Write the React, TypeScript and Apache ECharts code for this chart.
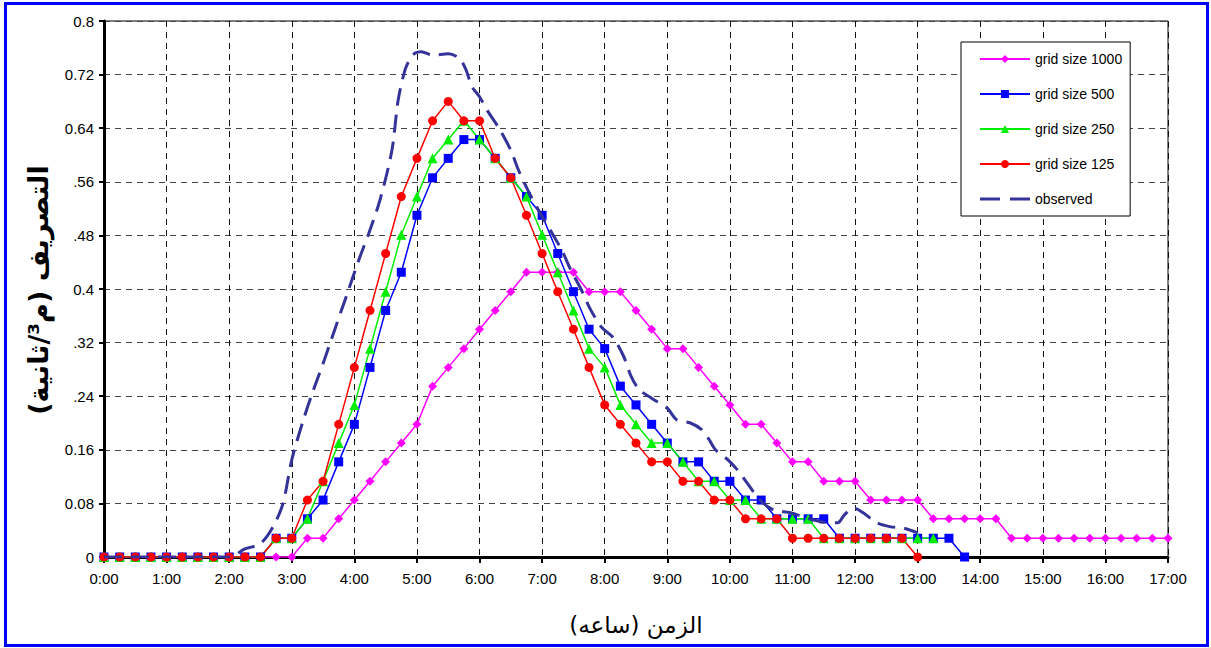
import React, { useEffect, useRef } from "react";
import * as echarts from "echarts";

// Sample times every 15 minutes (hours), the x positions of the model series
const times: number[] = Array.from({ length: 69 }, (_, i) => i / 4);

const hourTicks: string[] = [
  "0:00", "1:00", "2:00", "3:00", "4:00", "5:00", "6:00", "7:00", "8:00",
  "9:00", "10:00", "11:00", "12:00", "13:00", "14:00", "15:00", "16:00", "17:00",
];

const grid1000: number[] = [
  0, 0, 0, 0, 0, 0, 0, 0, 0, 0, 0, 0,
  0, 0.028, 0.028, 0.057, 0.085, 0.113, 0.142, 0.17, 0.198, 0.255, 0.283, 0.311,
  0.34, 0.368, 0.396, 0.425, 0.425, 0.425, 0.425, 0.396, 0.396, 0.396, 0.368, 0.34,
  0.311, 0.311, 0.283, 0.255, 0.227, 0.198, 0.198, 0.17, 0.142, 0.142, 0.113, 0.113,
  0.113, 0.085, 0.085, 0.085, 0.085, 0.057, 0.057, 0.057, 0.057, 0.057, 0.028, 0.028,
  0.028, 0.028, 0.028, 0.028, 0.028, 0.028, 0.028, 0.028, 0.028,
];

const grid500: number[] = [
  0, 0, 0, 0, 0, 0, 0, 0, 0, 0, 0, 0.028,
  0.028, 0.057, 0.085, 0.142, 0.198, 0.283, 0.368, 0.425, 0.51, 0.566, 0.595, 0.623,
  0.623, 0.595, 0.566, 0.538, 0.51, 0.453, 0.396, 0.34, 0.311, 0.255, 0.227, 0.198,
  0.17, 0.142, 0.142, 0.113, 0.113, 0.085, 0.085, 0.057, 0.057, 0.057, 0.057, 0.028,
  0.028, 0.028, 0.028, 0.028, 0.028, 0.028, 0.028, 0,
];

const grid250: number[] = [
  0, 0, 0, 0, 0, 0, 0, 0, 0, 0, 0, 0.028,
  0.028, 0.057, 0.113, 0.17, 0.227, 0.311, 0.396, 0.481, 0.538, 0.595, 0.623, 0.651,
  0.623, 0.595, 0.566, 0.538, 0.481, 0.425, 0.368, 0.311, 0.283, 0.227, 0.198, 0.17,
  0.17, 0.142, 0.113, 0.113, 0.085, 0.085, 0.057, 0.057, 0.057, 0.057, 0.028, 0.028,
  0.028, 0.028, 0.028, 0.028, 0.028, 0.028,
];

const grid125: number[] = [
  0, 0, 0, 0, 0, 0, 0, 0, 0, 0, 0, 0.028,
  0.028, 0.085, 0.113, 0.198, 0.283, 0.368, 0.453, 0.538, 0.595, 0.651, 0.68, 0.651,
  0.651, 0.595, 0.566, 0.51, 0.453, 0.396, 0.34, 0.283, 0.227, 0.198, 0.17, 0.142,
  0.142, 0.113, 0.113, 0.085, 0.085, 0.057, 0.057, 0.057, 0.028, 0.028, 0.028, 0.028,
  0.028, 0.028, 0.028, 0.028, 0,
];

const observedTime: number[] = [
  0, 2.0, 2.25, 2.5, 2.7, 2.86, 3.0, 3.17, 3.33, 3.52, 3.7, 3.89, 4.07, 4.23, 4.41,
  4.6, 4.7, 4.81, 4.9, 4.97, 5.07, 5.25, 5.5, 5.68, 5.78, 5.88, 6.0, 6.12, 6.33, 6.5,
  6.62, 6.77, 6.97, 7.18, 7.33, 7.45, 7.62, 7.77, 7.95, 8.13, 8.3, 8.42, 8.55, 8.75,
  9.0, 9.15, 9.37, 9.55, 9.67, 9.77, 9.97, 10.12, 10.28, 10.48, 10.7, 10.97, 11.23,
  11.5, 11.72, 11.83, 11.98, 12.13, 12.35, 12.57, 12.78, 13.0,
];
const observedValue: number[] = [
  0, 0, 0.012, 0.02, 0.045, 0.08, 0.145, 0.2, 0.245, 0.294, 0.343, 0.394, 0.443, 0.483, 0.533,
  0.607, 0.682, 0.727, 0.745, 0.752, 0.754, 0.749, 0.751, 0.744, 0.728, 0.702, 0.687, 0.667, 0.637, 0.607,
  0.578, 0.548, 0.513, 0.48, 0.455, 0.43, 0.4, 0.37, 0.343, 0.328, 0.3, 0.27, 0.25, 0.237,
  0.222, 0.205, 0.2, 0.19, 0.175, 0.16, 0.145, 0.13, 0.11, 0.085, 0.07, 0.066, 0.058,
  0.052, 0.051, 0.063, 0.073, 0.066, 0.051, 0.045, 0.043, 0.036,
];

const seriesNames: string[] = ["grid size 1000", "grid size 500", "grid size 250", "grid size 125", "observed"];
const yTitle = "التصريف (م³/ثانية)";
const xTitle = "الزمن (ساعه)";

const FONT = "'Liberation Sans', Arial, 'DejaVu Sans', sans-serif";

export default function App() {
  const ref = useRef<HTMLDivElement>(null);
  useEffect(() => {
    if (!ref.current) return;
    const chart = echarts.init(ref.current, null, { renderer: "svg" });
    const pair = (vals: number[]) => vals.map((v, i) => [times[i], v]);
    const modelSeries = (name: string, vals: number[], color: string, symbol: string, size: number) => ({
      name,
      type: "line",
      data: pair(vals),
      symbol,
      symbolSize: size,
      showSymbol: true,
      lineStyle: { color, width: 1.5 },
      itemStyle: { color },
      z: 3,
    });
    chart.setOption({
      animation: false,
      backgroundColor: "#ffffff",
      textStyle: { fontFamily: FONT },
      grid: {
        left: 104,
        top: 21,
        right: 43,
        bottom: 91,
        show: true,
        borderColor: "#000",
        borderWidth: 1,
        backgroundColor: "#fff",
      },
      legend: {
        orient: "vertical",
        left: 961,
        top: 42,
        padding: [10, 8, 10, 18],
        itemGap: 21,
        itemWidth: 50,
        itemHeight: 10,
        backgroundColor: "#fff",
        borderColor: "#000",
        borderWidth: 1,
        textStyle: { fontSize: 14, color: "#000", fontFamily: FONT },
        data: [
          seriesNames[0],
          seriesNames[1],
          seriesNames[2],
          seriesNames[3],
          { name: seriesNames[4], icon: "path://M0,0 H20 V3 H0 Z M30,0 H50 V3 H30 Z" },
        ],
      },
      xAxis: {
        type: "value",
        min: 0,
        max: 17,
        interval: 1,
        name: xTitle,
        nameLocation: "middle",
        nameGap: 56,
        nameTextStyle: { fontSize: 23, color: "#000", fontFamily: "'DejaVu Sans', sans-serif" },
        axisLine: { show: true, onZero: false, lineStyle: { color: "#000", width: 3 } },
        axisTick: { show: true, length: 6, lineStyle: { color: "#000", width: 2 } },
        axisLabel: {
          margin: 14,
          fontSize: 15,
          color: "#000",
          fontFamily: FONT,
          formatter: (v: number) => hourTicks[Math.round(v)] ?? "",
        },
        splitLine: { show: true, lineStyle: { color: "#111", width: 1, type: [6, 5] } },
      },
      yAxis: {
        type: "value",
        min: 0,
        max: 0.8,
        interval: 0.08,
        axisLine: { show: true, lineStyle: { color: "#000", width: 3 } },
        axisTick: { show: true, length: 5, lineStyle: { color: "#000", width: 2 } },
        axisLabel: {
          margin: 10,
          fontSize: 15,
          color: "#000",
          fontFamily: FONT,
          formatter: (v: number) => String(parseFloat(v.toFixed(2))),
        },
        splitLine: { show: true, lineStyle: { color: "#444", width: 1, type: [6, 5] } },
      },
      graphic: [
        {
          type: "rect",
          shape: { x: 14, y: 160, width: 59, height: 262 },
          style: { fill: "#fff" },
          z: 50,
          silent: true,
        },
        {
          type: "text",
          x: 38,
          y: 290,
          rotation: Math.PI / 2,
          z: 51,
          silent: true,
          style: {
            text: yTitle,
            font: "bold 27px 'DejaVu Sans', sans-serif",
            fill: "#000",
            align: "center",
            verticalAlign: "middle",
          },
        },
        {
          type: "rect",
          shape: { x: 5.5, y: 3.5, width: 1202, height: 642 },
          style: { fill: "none", stroke: "#0000ff", lineWidth: 3 },
          z: 100,
          silent: true,
        },
      ],
      series: [
        modelSeries(seriesNames[0], grid1000, "#ff00ff", "diamond", 9),
        modelSeries(seriesNames[1], grid500, "#0000ff", "rect", 9),
        modelSeries(seriesNames[2], grid250, "#00ee00", "triangle", 10),
        modelSeries(seriesNames[3], grid125, "#ff0000", "circle", 9),
        {
          name: seriesNames[4],
          type: "line",
          data: observedTime.map((t, i) => [t, observedValue[i]]),
          symbol: "none",
          smooth: 0.3,
          lineStyle: { color: "#333399", width: 3, type: [18, 9] },
          itemStyle: { color: "#333399" },
          z: 4,
        },
      ],
    });
    return () => chart.dispose();
  }, []);
  return (
    <div
      ref={ref}
      style={{ position: "fixed", left: 0, top: 0, width: 1211, height: 648, background: "#fff" }}
    />
  );
}
